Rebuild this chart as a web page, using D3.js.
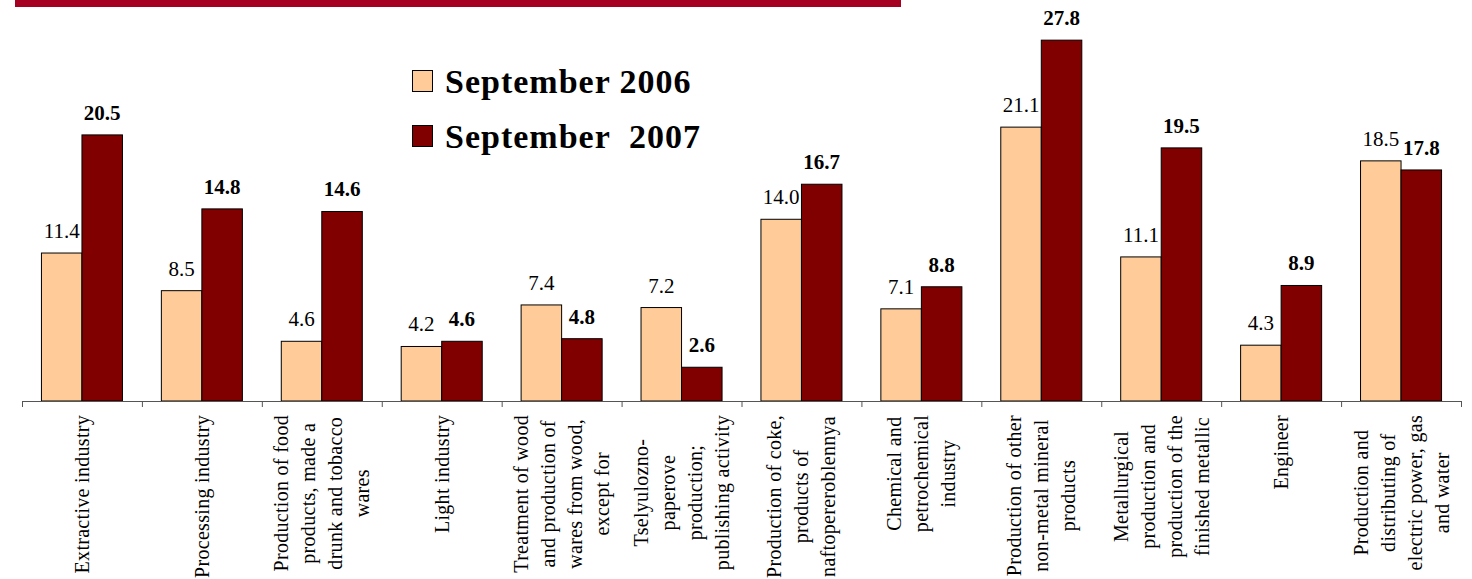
<!DOCTYPE html>
<html>
<head>
<meta charset="utf-8">
<script src="https://cdn.jsdelivr.net/npm/d3@7"></script>
<style>
  body { margin: 0; background: #fff; overflow: hidden; }
  svg { display: block; }
  text { font-family: "Liberation Serif", "DejaVu Serif", serif; }
</style>
</head>
<body>
<svg width="1472" height="579"></svg>
<script>
// categories (line breaks as in the original labels)
var categories = [
    ["Extractive industry"],
    ["Processing industry"],
    ["Production of food", "products, made a", "drunk and tobacco", "wares"],
    ["Light industry"],
    ["Treatment of wood", "and production of", "wares from wood,", "except for"],
    ["Tselyulozno-", "paperove", "production;", "publishing activity"],
    ["Production of coke,", "products of", "naftopereroblennya"],
    ["Chemical and", "petrochemical", "industry"],
    ["Production of other", "non-metal mineral", "products"],
    ["Metallurgical", "production and", "production of the", "finished metallic"],
    ["Engineer"],
    ["Production and", "distributing of", "electric power, gas", "and water"]
];
var seriesNames = ["September 2006", "September  2007"];
var sep2006 = [11.4, 8.5, 4.6, 4.2, 7.4, 7.2, 14.0, 7.1, 21.1, 11.1, 4.3, 18.5];
var sep2007 = [20.5, 14.8, 14.6, 4.6, 4.8, 2.6, 16.7, 8.8, 27.8, 19.5, 8.9, 17.8];
var colors = ["#FFCC99", "#800000"];

var svg = d3.select("svg"),
    width = +svg.attr("width"),
    height = +svg.attr("height");

var baseY = 401;
var serif = "Liberation Serif";

var x = d3.scaleBand()
    .domain(d3.range(categories.length))
    .range([22, 1461])
    .padding(0);

var xs = d3.scaleBand()
    .domain([0, 1])
    .range([0, x.bandwidth()])
    .paddingInner(0)
    .paddingOuter(0.48);

var y = d3.scaleLinear()
    .domain([0, 30])
    .range([baseY, baseY - 389.4]);

// red strip on top
svg.append("rect")
    .attr("x", 15).attr("y", 0)
    .attr("width", 886).attr("height", 7)
    .attr("fill", "#A50021");

var rows = categories.map((c, i) => ({ i: i, vals: [sep2006[i], sep2007[i]] }));

var groups = svg.selectAll(".grp")
    .data(rows)
    .enter().append("g")
    .attr("class", "grp")
    .attr("transform", d => "translate(" + x(d.i) + ",0)");

groups.selectAll("rect")
    .data(d => d.vals.map((v, k) => ({ k: k, v: v })))
    .enter().append("rect")
    .attr("x", d => xs(d.k))
    .attr("y", d => y(d.v))
    .attr("width", xs.bandwidth())
    .attr("height", d => baseY - y(d.v))
    .attr("fill", d => colors[d.k])
    .attr("stroke", "#000")
    .attr("stroke-width", 1);

groups.selectAll("text.val")
    .data(d => d.vals.map((v, k) => ({ k: k, v: v })))
    .enter().append("text")
    .attr("class", "val")
    .attr("x", d => xs(d.k) + xs.bandwidth() / 2)
    .attr("y", d => y(d.v) - 15)
    .attr("text-anchor", "middle")
    .attr("font-family", serif)
    .attr("font-size", 21)
    .attr("font-weight", d => d.k === 1 ? "bold" : "normal")
    .attr("fill", "#000")
    .text(d => d.v.toFixed(1));

// x axis: line plus ticks at band edges
var axis = svg.append("g");
axis.append("line")
    .attr("x1", x.range()[0]).attr("x2", x.range()[1])
    .attr("y1", baseY + 0.5).attr("y2", baseY + 0.5)
    .attr("stroke", "#555");
axis.selectAll(".tick")
    .data(d3.range(categories.length + 1))
    .enter().append("line")
    .attr("x1", d => x.range()[0] + d * x.step() + 0.5)
    .attr("x2", d => x.range()[0] + d * x.step() + 0.5)
    .attr("y1", baseY)
    .attr("y2", baseY + 6)
    .attr("stroke", "#555");

// category labels, rotated, lines centred, block top at the axis
var lineH = 27;
categories.forEach((lines, i) => {
    var cx = x(i) + x.bandwidth() / 2;
    var g = svg.append("g");
    var texts = lines.map((t, j) => g.append("text")
        .attr("text-anchor", "middle")
        .attr("font-family", serif)
        .attr("font-size", 20)
        .attr("letter-spacing", 0.3)
        .attr("fill", "#000")
        .text(t));
    var maxLen = d3.max(texts, t => t.node().getComputedTextLength());
    var cy = 415 + maxLen / 2;
    texts.forEach((t, j) => {
        var lx = cx + (j - (lines.length - 1) / 2) * lineH + 7;
        t.attr("transform", "translate(" + lx + "," + cy + ") rotate(-90)");
    });
});

// legend
var legend = svg.append("g");
seriesNames.forEach((name, k) => {
    legend.append("rect")
        .attr("x", 412.5).attr("y", 70.5 + k * 55)
        .attr("width", 20).attr("height", 21)
        .attr("fill", colors[k])
        .attr("stroke", "#000");
    legend.append("text")
        .attr("x", 445).attr("y", 93 + k * 55)
        .attr("font-family", serif)
        .attr("font-size", 34)
        .attr("font-weight", "bold")
        .attr("letter-spacing", 1)
        .style("white-space", "pre")
        .text(name);
});
</script>
</body>
</html>
